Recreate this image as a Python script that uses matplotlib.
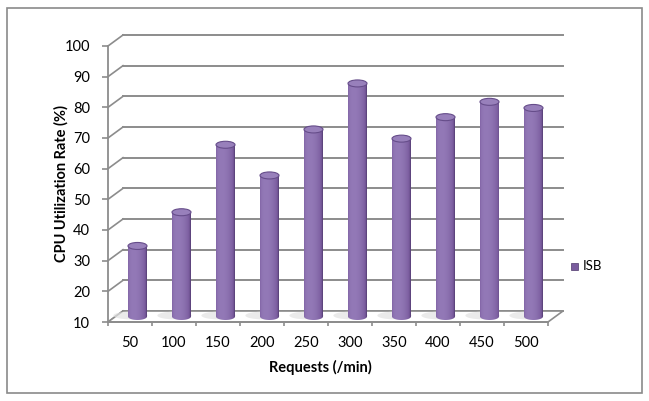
import numpy as np
import matplotlib
matplotlib.use('Agg')
import matplotlib.pyplot as plt
from matplotlib.patches import Ellipse, PathPatch, Polygon, Rectangle
from matplotlib.path import Path

# data
requests = ['50', '100', '150', '200', '250', '300', '350', '400', '450', '500']
cpu_util = [33, 44, 66, 56, 71, 86, 68, 75, 80, 78]
y_ticks = [10, 20, 30, 40, 50, 60, 70, 80, 90, 100]
series_name = 'ISB'

plt.rcParams['font.family'] = ['Lato', 'DejaVu Sans']

grid_col = '#8c8c8c'
dark = np.array([0x4e, 0x38, 0x6c]) / 255
mid = np.array([0x7a, 0x5c, 0x9e]) / 255
light = np.array([0x93, 0x79, 0xb7]) / 255

fig = plt.figure(figsize=(6.49, 4.01), dpi=100)
# front plane of the 3d box
ax = fig.add_axes([108 / 649, 1 - 322 / 401, 440 / 649, 276 / 401])
n = len(requests)
ax.set_xlim(0, n)
ax.set_ylim(10, 100)

# depth offsets (back wall) in data units
px_x = n / 440
px_y = 90 / 276
dxb, dyb = 15 * px_x, 11 * px_y
dxm, dym = dxb / 2, dyb / 2

# back wall gridlines + left side diagonals
for v in y_ticks:
    ax.plot([dxb, n + dxb], [v + dyb, v + dyb], color=grid_col, lw=1.4,
            clip_on=False, zorder=1)
    ax.plot([0, dxb], [v, v + dyb], color=grid_col, lw=1.2, clip_on=False, zorder=1)

# floor
floor = Polygon([(0, 10), (n, 10), (n + dxb, 10 + dyb), (dxb, 10 + dyb)],
                closed=True, facecolor='white', edgecolor=grid_col, lw=1.2,
                clip_on=False, zorder=2)
ax.add_patch(floor)

# cylinder shading
t = np.linspace(0, 1, 60)
theta = np.arcsin(2 * t - 1)
inten = np.cos(theta + 0.4)
inten = (inten - inten.min()) / (inten.max() - inten.min())
cols = []
for s in inten:
    if s < 0.45:
        c = dark + (mid - dark) * (s / 0.45)
    else:
        c = mid + (light - mid) * ((s - 0.45) / 0.55)
    cols.append(c)
grad = np.array(cols)[None, :, :]

bw = 19 * px_x
eh = 7 * px_y
base = 10 + dym
for i, v in enumerate(cpu_util):
    cx = i + 0.5 + dxm
    top = v + dym
    x0, x1 = cx - bw / 2, cx + bw / 2
    # floor shadow
    ax.add_patch(Ellipse((cx - 7 * px_x, base + 1 * px_y), bw * 1.8, eh * 1.1,
                         facecolor='#e2e2e2', edgecolor='none', alpha=0.7,
                         zorder=3, clip_on=False))
    a = np.linspace(np.pi, 2 * np.pi, 30)
    pts = [(x0, top)] + [(cx + bw / 2 * np.cos(k), base + eh / 2 * np.sin(k)) for k in a] + [(x1, top), (x0, top)]
    clip = PathPatch(Path(pts), transform=ax.transData, facecolor='none', edgecolor='none')
    ax.add_patch(clip)
    im = ax.imshow(grad, extent=(x0, x1, base - eh, top), aspect='auto',
                   interpolation='bilinear', zorder=4)
    im.set_clip_path(clip)
    ax.add_patch(Ellipse((cx, top), bw, eh, facecolor='#9880bb',
                         edgecolor='#664d8a', lw=0.8, zorder=5))

ax.set_xlim(0, n)
ax.set_ylim(10, 100)

for s in ['top', 'right']:
    ax.spines[s].set_visible(False)
for s in ['left', 'bottom']:
    ax.spines[s].set_color(grid_col)
    ax.spines[s].set_linewidth(1.3)
    ax.spines[s].set_zorder(6)

ax.set_yticks(y_ticks)
ax.set_yticklabels([str(v) for v in y_ticks])
ax.tick_params(axis='y', length=4.3, width=1.2, color=grid_col, pad=8.5,
               labelsize=10.5)
ax.set_xticks(np.arange(n) + 0.5)
ax.set_xticklabels(requests)
ax.set_xticks(np.arange(n + 1), minor=True)
ax.tick_params(axis='x', which='major', length=0, pad=10, labelsize=10.5)
ax.tick_params(axis='x', which='minor', length=3, width=1.2, color=grid_col)
ax.patch.set_visible(False)

fig.text(320 / 649, 1 - 367 / 401, 'Requests (/min)', ha='center', va='center',
         fontsize=10.5, fontweight='bold')
fig.text(61 / 649, 1 - 184 / 401, 'CPU Utilization Rate (%)', ha='center',
         va='center', rotation=90, fontsize=10.5, fontweight='bold')

# legend
fig.patches.append(Rectangle((571 / 649, 1 - 270 / 401), 7 / 649, 7 / 401,
                             transform=fig.transFigure, facecolor=mid,
                             edgecolor=dark, lw=0.5))
fig.text(583 / 649, 1 - 266 / 401, series_name, ha='left', va='center',
         fontsize=9.5)

# chart border
fig.patches.append(Rectangle((7 / 649, 1 - 393 / 401), 635 / 649, 385 / 401,
                             transform=fig.transFigure, facecolor='none',
                             edgecolor='#8a8a8a', lw=1.2))

fig.savefig('out.png', dpi=100)
